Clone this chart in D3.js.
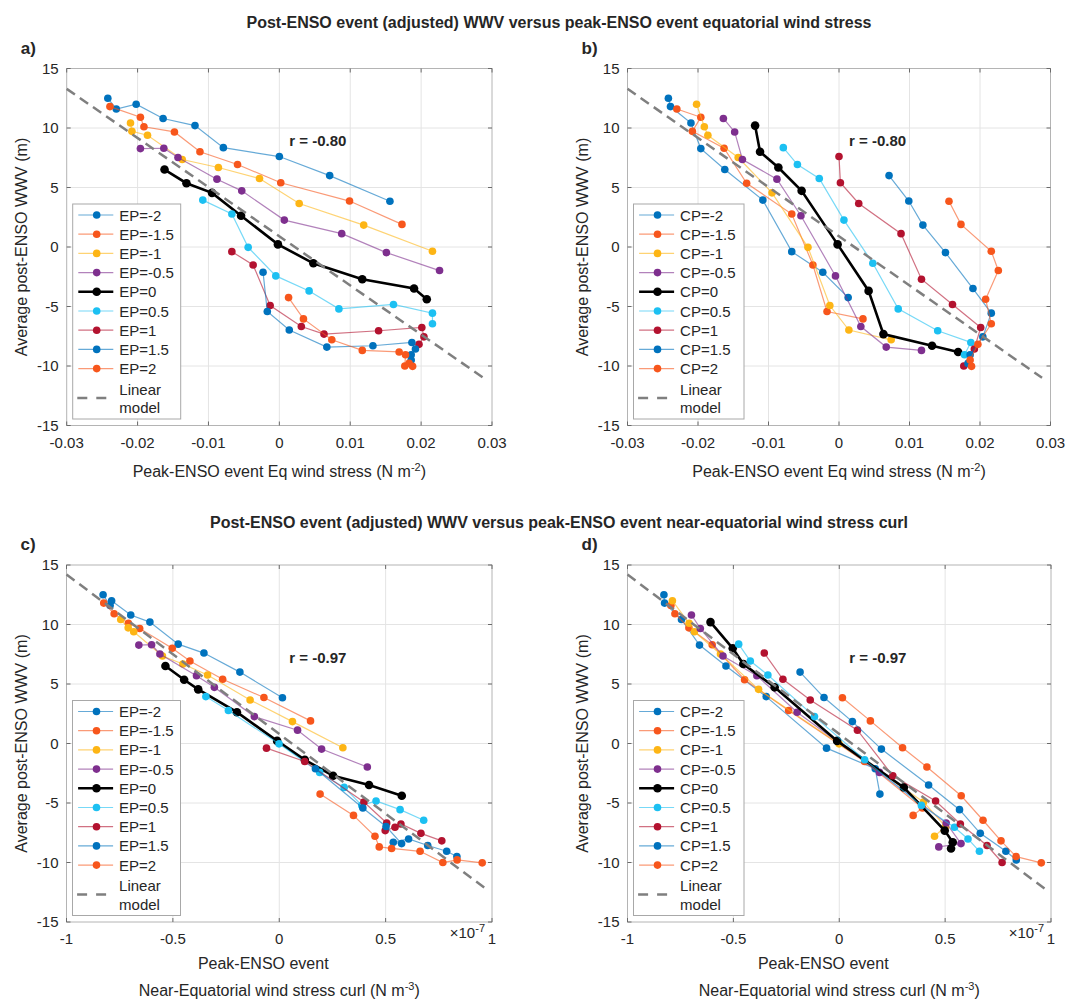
<!DOCTYPE html>
<html><head><meta charset="utf-8">
<script src="https://cdn.jsdelivr.net/npm/d3@7"></script>
<style>body{margin:0;background:#fff;} text{font-family:"Liberation Sans",Arial,Helvetica,sans-serif;fill:#262626;}</style>
</head><body><svg id="chart" width="1071" height="1004"></svg>
<script>
// ---------------- DATA ----------------
const levels = [-2, -1.5, -1, -0.5, 0, 0.5, 1, 1.5, 2];
const levelColors = ["#0072BD", "#F7561C", "#FDB515", "#7E2F8E", "#000000", "#1CC0F2", "#B3122F", "#0072BD", "#F7561C"];

// Post-ENSO WWV (m); rows = EP index (-2..2), columns = CP index (-2..2)
const wwvEPm2  = [12.5, 11.6, 12.0, 10.8, 10.2, 8.35, 7.6, 6.0, 3.85];
const wwvEPm15 = [11.8, 10.9, 10.1, 9.67, 8.0, 6.93, 5.4, 3.86, 1.9];
const wwvEPm1  = [10.42, 9.72, 9.39, 7.35, 6.68, 5.76, 3.66, 1.84, -0.36];
const wwvEPm05 = [8.27, 8.3, 7.52, 5.7, 4.72, 2.26, 1.12, -0.47, -1.98];
const wwvEP0   = [6.51, 5.36, 4.55, 2.63, 0.22, -1.37, -2.71, -3.49, -4.39];
const wwvEP05  = [3.94, 2.77, -0.03, -2.43, -3.69, -5.2, -4.83, -5.56, -6.45];
const wwvEP1   = [-0.39, -1.51, -4.92, -6.68, -7.32, -7.04, -6.76, -7.55, -8.18];
const wwvEP15  = [-2.12, -5.42, -6.98, -8.41, -8.3, -8.02, -8.57, -9.05, -9.5];
const wwvEP2   = [-4.25, -6.04, -7.8, -8.69, -8.82, -9.06, -10.0, -9.78, -10.03];
const wwv = [wwvEPm2, wwvEPm15, wwvEPm1, wwvEPm05, wwvEP0, wwvEP05, wwvEP1, wwvEP15, wwvEP2];

// Peak-ENSO equatorial wind stress (N m^-2)
const tauEPm2  = [-0.0242, -0.0230, -0.0202, -0.0164, -0.0119, -0.0079, 0.0000, 0.0071, 0.0156];
const tauEPm15 = [-0.0239, -0.0196, -0.0191, -0.0148, -0.0112, -0.0059, 0.0002, 0.0099, 0.0173];
const tauEPm1  = [-0.0210, -0.0208, -0.0186, -0.0137, -0.0086, -0.0028, 0.0028, 0.0119, 0.0216];
const tauEPm05 = [-0.0196, -0.0163, -0.0143, -0.0088, -0.0053, 0.0007, 0.0088, 0.0151, 0.0226];
const tauEP0   = [-0.0162, -0.0131, -0.0095, -0.0054, -0.0002, 0.0048, 0.0117, 0.0190, 0.0208];
const tauEP05  = [-0.0108, -0.0067, -0.0044, -0.0005, 0.0042, 0.0084, 0.0161, 0.0216, 0.0216];
const tauEP1   = [-0.0067, -0.0037, -0.0013, 0.0031, 0.0063, 0.0140, 0.0201, 0.0204, 0.0197];
const tauEP15  = [-0.0023, -0.0017, 0.0014, 0.0067, 0.0132, 0.0187, 0.0192, 0.0186, 0.0186];
const tauEP2   = [0.0013, 0.0034, 0.0074, 0.0117, 0.0169, 0.0178, 0.0177, 0.0183, 0.0188];
const windStress = [tauEPm2, tauEPm15, tauEPm1, tauEPm05, tauEP0, tauEP05, tauEP1, tauEP15, tauEP2];

// Peak-ENSO near-equatorial wind stress curl (x 1e-7 N m^-3)
const curlEPm2  = [-0.828, -0.795, -0.788, -0.698, -0.608, -0.475, -0.354, -0.185, 0.015];
const curlEPm15 = [-0.825, -0.776, -0.709, -0.656, -0.503, -0.42, -0.266, -0.072, 0.147];
const curlEPm1  = [-0.745, -0.71, -0.684, -0.549, -0.453, -0.337, -0.137, 0.062, 0.299];
const curlEPm05 = [-0.66, -0.6, -0.561, -0.389, -0.305, -0.117, 0.086, 0.199, 0.414];
const curlEP0   = [-0.535, -0.447, -0.381, -0.199, -0.01, 0.12, 0.253, 0.422, 0.576];
const curlEP05  = [-0.345, -0.239, -0.001, 0.19, 0.305, 0.388, 0.455, 0.568, 0.679];
const curlEP1   = [-0.06, 0.12, 0.398, 0.505, 0.498, 0.544, 0.572, 0.666, 0.764];
const curlEP15  = [0.17, 0.393, 0.502, 0.575, 0.536, 0.608, 0.698, 0.787, 0.835];
const curlEP2   = [0.192, 0.349, 0.45, 0.47, 0.528, 0.662, 0.769, 0.836, 0.954];
const curl = [curlEPm2, curlEPm15, curlEPm1, curlEPm05, curlEP0, curlEP05, curlEP1, curlEP15, curlEP2];

const stressTicks = [-0.03, -0.02, -0.01, 0, 0.01, 0.02, 0.03];
const curlTicks = [-1, -0.5, 0, 0.5, 1];
const wwvTicks = [15, 10, 5, 0, -5, -10, -15];

const stressModel = {x: [-0.03, 0.0288], intercept: 0.9, slope: -413};
const curlModel = {x: [-1, 0.985], intercept: 0.8, slope: -13.4};

const titles = [
  "Post-ENSO event (adjusted) WWV versus peak-ENSO event equatorial wind stress",
  "Post-ENSO event (adjusted) WWV versus peak-ENSO event near-equatorial wind stress curl"
];
const rLabels = ["r = -0.80", "r = -0.80", "r = -0.97", "r = -0.97"];

// ---------------- DRAWING ----------------
const svg = d3.select("#chart");

svg.append("text").attr("x", 559).attr("y", 28).attr("text-anchor", "middle")
  .attr("font-size", 16).attr("font-weight", "bold").text(titles[0]);
svg.append("text").attr("x", 559).attr("y", 528).attr("text-anchor", "middle")
  .attr("font-size", 16).attr("font-weight", "bold").text(titles[1]);

const panels = [
  {id: "a)", left: 66.7, right: 492, top: 68.5, bottom: 425.5, xDomain: [-0.03, 0.03], xTicks: stressTicks, xData: windStress, byEP: true, model: stressModel, r: rLabels[0], rdy: 77, kind: "stress"},
  {id: "b)", left: 627.5, right: 1050.5, top: 68.5, bottom: 425.5, xDomain: [-0.03, 0.03], xTicks: stressTicks, xData: windStress, byEP: false, model: stressModel, r: rLabels[1], rdy: 77, kind: "stress"},
  {id: "c)", left: 66.5, right: 492, top: 565, bottom: 922, xDomain: [-1, 1], xTicks: curlTicks, xData: curl, byEP: true, model: curlModel, r: rLabels[2], rdy: 98, kind: "curl"},
  {id: "d)", left: 627.5, right: 1051, top: 565, bottom: 922, xDomain: [-1, 1], xTicks: curlTicks, xData: curl, byEP: false, model: curlModel, r: rLabels[3], rdy: 98, kind: "curl"}
];

function fmt(v) { return String(v); }

panels.forEach(p => {
  const x = d3.scaleLinear().domain(p.xDomain).range([p.left, p.right]);
  const y = d3.scaleLinear().domain([-15, 15]).range([p.bottom, p.top]);
  const g = svg.append("g");

  // grid
  g.selectAll(null).data(p.xTicks.slice(1, -1)).enter().append("line")
    .attr("x1", d => x(d)).attr("x2", d => x(d)).attr("y1", p.top).attr("y2", p.bottom)
    .attr("stroke", "#E4E4E4").attr("stroke-width", 1);
  g.selectAll(null).data(wwvTicks.slice(1, -1)).enter().append("line")
    .attr("y1", d => y(d)).attr("y2", d => y(d)).attr("x1", p.left).attr("x2", p.right)
    .attr("stroke", "#E4E4E4").attr("stroke-width", 1);

  // frame
  g.append("rect").attr("x", p.left).attr("y", p.top).attr("width", p.right - p.left).attr("height", p.bottom - p.top)
    .attr("fill", "none").attr("stroke", "#B4B4B4").attr("stroke-width", 1);

  // ticks inside
  const tl = 4;
  p.xTicks.forEach(t => {
    g.append("line").attr("x1", x(t)).attr("x2", x(t)).attr("y1", p.bottom).attr("y2", p.bottom - tl).attr("stroke", "#6a6a6a");
    g.append("line").attr("x1", x(t)).attr("x2", x(t)).attr("y1", p.top).attr("y2", p.top + tl).attr("stroke", "#6a6a6a");
  });
  wwvTicks.forEach(t => {
    g.append("line").attr("y1", y(t)).attr("y2", y(t)).attr("x1", p.left).attr("x2", p.left + tl).attr("stroke", "#6a6a6a");
    g.append("line").attr("y1", y(t)).attr("y2", y(t)).attr("x1", p.right).attr("x2", p.right - tl).attr("stroke", "#6a6a6a");
  });

  // tick labels
  g.selectAll(null).data(p.xTicks).enter().append("text")
    .attr("x", d => x(d)).attr("y", p.bottom + 22).attr("text-anchor", "middle")
    .attr("font-size", 15).text(fmt);
  g.selectAll(null).data(wwvTicks).enter().append("text")
    .attr("x", p.left - 8).attr("y", d => y(d) + 5).attr("text-anchor", "end")
    .attr("font-size", 15).text(fmt);

  // y label
  const ymid = (p.top + p.bottom) / 2;
  g.append("text").attr("transform", `translate(${p.left - 40},${ymid}) rotate(-90)`)
    .attr("text-anchor", "middle").attr("font-size", 16).text("Average post-ENSO WWV (m)");

  // x label
  const xmid = (p.left + p.right) / 2;
  if (p.kind === "stress") {
    const t = g.append("text").attr("x", xmid).attr("y", p.bottom + 51).attr("text-anchor", "middle").attr("font-size", 16);
    t.append("tspan").text("Peak-ENSO event Eq wind stress (N m");
    t.append("tspan").attr("font-size", 11).attr("dy", -6).text("-2");
    t.append("tspan").attr("dy", 6).text(")");
  } else {
    g.append("text").attr("x", xmid - 16).attr("y", p.bottom + 47).attr("text-anchor", "middle").attr("font-size", 16).text("Peak-ENSO event");
    const t = g.append("text").attr("x", xmid).attr("y", p.bottom + 74).attr("text-anchor", "middle").attr("font-size", 16);
    t.append("tspan").text("Near-Equatorial wind stress curl (N m");
    t.append("tspan").attr("font-size", 11).attr("dy", -6).text("-3");
    t.append("tspan").attr("dy", 6).text(")");
    const e = g.append("text").attr("x", p.right - 7).attr("y", p.bottom + 16).attr("text-anchor", "end").attr("font-size", 15);
    e.append("tspan").text("\u00d710");
    e.append("tspan").attr("font-size", 11).attr("dy", -6).text("-7");
  }

  // panel label
  g.append("text").attr("x", p.left - 46).attr("y", p.top - 15).attr("font-size", 17).attr("font-weight", "bold").text(p.id);

  // r label
  g.append("text").attr("x", x(0) + 10).attr("y", p.top + p.rdy).attr("font-size", 15).attr("font-weight", "bold").text(p.r);

  // series
  const line = d3.line().x(d => x(d[0])).y(d => y(d[1]));
  levels.forEach((lv, i) => {
    const pts = d3.range(9).map(j => p.byEP ? [p.xData[i][j], wwv[i][j]] : [p.xData[j][i], wwv[j][i]]);
    const isZero = lv === 0;
    g.append("path").attr("d", line(pts)).attr("fill", "none")
      .attr("stroke", levelColors[i]).attr("stroke-opacity", isZero ? 1 : 0.6)
      .attr("stroke-width", isZero ? 2.6 : 1.2);
    g.selectAll(null).data(pts).enter().append("circle")
      .attr("cx", d => x(d[0])).attr("cy", d => y(d[1])).attr("r", isZero ? 4.3 : 3.8)
      .attr("fill", levelColors[i]);
  });

  // linear model
  const m = p.model;
  g.append("line").attr("x1", x(m.x[0])).attr("y1", y(m.intercept + m.slope * m.x[0]))
    .attr("x2", x(m.x[1])).attr("y2", y(m.intercept + m.slope * m.x[1]))
    .attr("stroke", "#7F7F7F").attr("stroke-width", 2.5).attr("stroke-dasharray", "10,6");

  // legend
  const prefix = p.byEP ? "EP=" : "CP=";
  const lx = p.left + 6, ly = p.top + 135.5;
  const lw = p.byEP ? 108 : 110.5, lh = 215;
  const lg = g.append("g");
  lg.append("rect").attr("x", lx).attr("y", ly).attr("width", lw).attr("height", lh)
    .attr("fill", "#fff").attr("stroke", "#A8A8A8").attr("stroke-width", 1);
  levels.forEach((lv, i) => {
    const cy = ly + 11 + i * 19.2;
    const isZero = lv === 0;
    lg.append("line").attr("x1", lx + 5.6).attr("x2", lx + 40.6).attr("y1", cy).attr("y2", cy)
      .attr("stroke", levelColors[i]).attr("stroke-opacity", isZero ? 1 : 0.6).attr("stroke-width", isZero ? 2.6 : 1.2);
    lg.append("circle").attr("cx", lx + 24).attr("cy", cy).attr("r", isZero ? 4.3 : 3.8).attr("fill", levelColors[i]);
    lg.append("text").attr("x", lx + 46.6).attr("y", cy + 5.5).attr("font-size", 15).text(prefix + fmt(lv));
  });
  const dy = ly + 194;
  lg.append("line").attr("x1", lx + 4.6).attr("x2", lx + 34).attr("y1", dy).attr("y2", dy)
    .attr("stroke", "#7F7F7F").attr("stroke-width", 2.5).attr("stroke-dasharray", "10,9");
  lg.append("text").attr("x", lx + 46.6).attr("y", ly + 190.5).attr("font-size", 15).text("Linear");
  lg.append("text").attr("x", lx + 46.6).attr("y", ly + 209).attr("font-size", 15).text("model");
});
</script>
</body></html>
